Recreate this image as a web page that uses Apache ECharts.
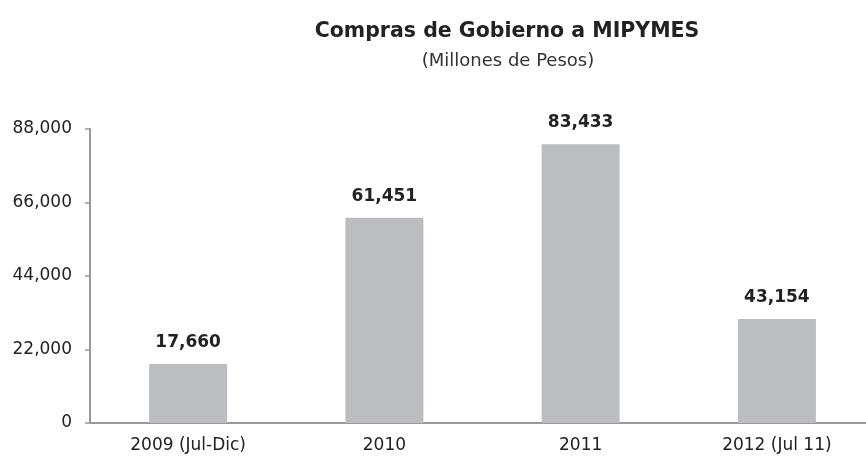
<!DOCTYPE html>
<html><head><meta charset="utf-8">
<script src="https://cdn.jsdelivr.net/npm/echarts@6/dist/echarts.min.js"></script>
<style>html,body{margin:0;padding:0;background:#fff;overflow:hidden}#c{width:875px;height:458px}</style>
</head><body><div id="c"></div>
<script>
var categories = ['2009 (Jul-Dic)', '2010', '2011', '2012 (Jul 11)'];
var barValues = [17660, 61451, 83433, 31100];
var labelValues = [17660, 61451, 83433, 43154];
var yTicks = [0, 22000, 44000, 66000, 88000];
var titleText = 'Compras de Gobierno a MIPYMES';
var subtitleText = '(Millones de Pesos)';

function fmt(v){ return v.toString().replace(/\B(?=(\d{3})+(?!\d))/g, ','); }
var FONT = 'DejaVu Sans';
var chart = echarts.init(document.getElementById('c'), null, {renderer:'canvas'});
chart.setOption({
  animation:false,
  backgroundColor:'#fff',
  title:[
    {text:titleText, left:502, top:16, textAlign:'center',
     textStyle:{fontFamily:FONT, fontSize:20.5, fontWeight:'bold', color:'#222'}},
    {text:subtitleText, left:503, top:47, textAlign:'center',
     textStyle:{fontFamily:FONT, fontSize:18, fontWeight:'normal', color:'#333'}}
  ],
  grid:{left:90, right:0, top:129, bottom:35, containLabel:false},
  xAxis:{type:'category', data:categories,
    axisLine:{lineStyle:{color:'#999', width:2}},
    axisTick:{show:false},
    axisLabel:{fontFamily:FONT, fontSize:17, color:'#222', margin:14}},
  yAxis:{type:'value', min:yTicks[0], max:yTicks[yTicks.length-1], interval:yTicks[1]-yTicks[0],
    axisLine:{show:true, lineStyle:{color:'#999', width:2}},
    axisTick:{show:true, length:5, lineStyle:{color:'#999', width:1.5}},
    splitLine:{show:false},
    axisLabel:{fontFamily:FONT, fontSize:17, color:'#222', margin:18, formatter:function(v){return fmt(v);}}},
  series:[{type:'bar', data:barValues, barWidth:78,
    itemStyle:{color:'#bcbdc1'},
    label:{show:true, position:'top', distance:13, fontFamily:FONT, fontSize:17, fontWeight:'bold', color:'#222',
      formatter:function(p){return fmt(labelValues[p.dataIndex]);}}}]
});
</script></body></html>
